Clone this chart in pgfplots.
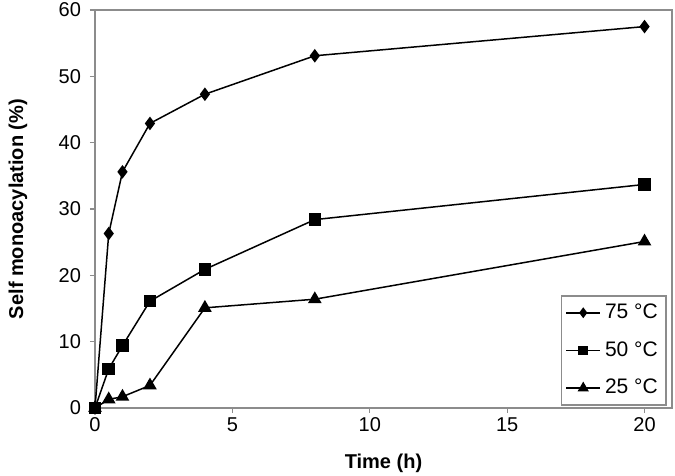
\documentclass[border=0pt]{standalone}
\usepackage{pgfplots}
\pgfplotsset{compat=1.18}
\usepackage{fontspec}
\setmainfont{Liberation Sans}
\begin{document}
\begin{tikzpicture}
\begin{axis}[
    name=ax,
    scale only axis,
    width=288.5pt, height=199pt,
    xmin=0, xmax=21, ymin=0, ymax=60,
    xtick={0,5,10,15,20},
    ytick={0,10,20,30,40,50,60},
    tick align=outside,
    tick style={gray!90, line width=0.6pt},
    major tick length=2.5pt,
    axis line style={gray!90, line width=0.7pt},
    xtick pos=bottom, ytick pos=left,
    clip=false,
    xlabel={\textbf{Time (h)}},
    ylabel={\textbf{Self monoacylation (\%)}},
    every axis x label/.style={at={(axis description cs:0.5,0)}, anchor=center, yshift=-27.5pt},
    every axis y label/.style={at={(axis description cs:0,0.5)}, anchor=center, rotate=90, yshift=38.5pt},
    tick label style={font=\fontsize{10}{12}\selectfont},
    label style={font=\fontsize{10}{12}\selectfont},
    yticklabel style={anchor=east, xshift=-1pt},
    xticklabel style={anchor=center, yshift=-6pt},
    /pgf/number format/assume math mode=true,
    legend style={at={(0.9905,0.006)}, anchor=south east, draw=gray!90, line width=0.7pt,
        font=\fontsize{10.5}{12}\selectfont, row sep=6pt, inner xsep=2pt, inner ysep=2pt},
    legend cell align=left,
    every axis plot/.append style={black, line width=0.75pt},
]
\addplot[mark=diamond*, mark size=2.8pt, legend image post style={mark size=2.1pt}] coordinates {
    (0,0)(0.5,26.3)(1,35.6)(2,42.9)(4,47.3)(8,53.1)(20,57.5)
};
\addlegendentry{75 °C}
\addplot[mark=square*, mark size=2.75pt, legend image post style={mark size=2pt}] coordinates {
    (0,0)(0.5,5.9)(1,9.4)(2,16.1)(4,20.9)(8,28.4)(20,33.7)
};
\addlegendentry{50 °C}
\addplot[mark=triangle*, mark size=3.2pt, legend image post style={mark size=2.5pt}] coordinates {
    (0,0)(0.5,1.3)(1,1.7)(2,3.4)(4,15.1)(8,16.4)(20,25.1)
};
\addlegendentry{25 °C}
\end{axis}
\pgfresetboundingbox
\path ([shift={(-47.5pt,-34pt)}]ax.south west) ([shift={(1.5pt,5pt)}]ax.north east);
\end{tikzpicture}
\end{document}
